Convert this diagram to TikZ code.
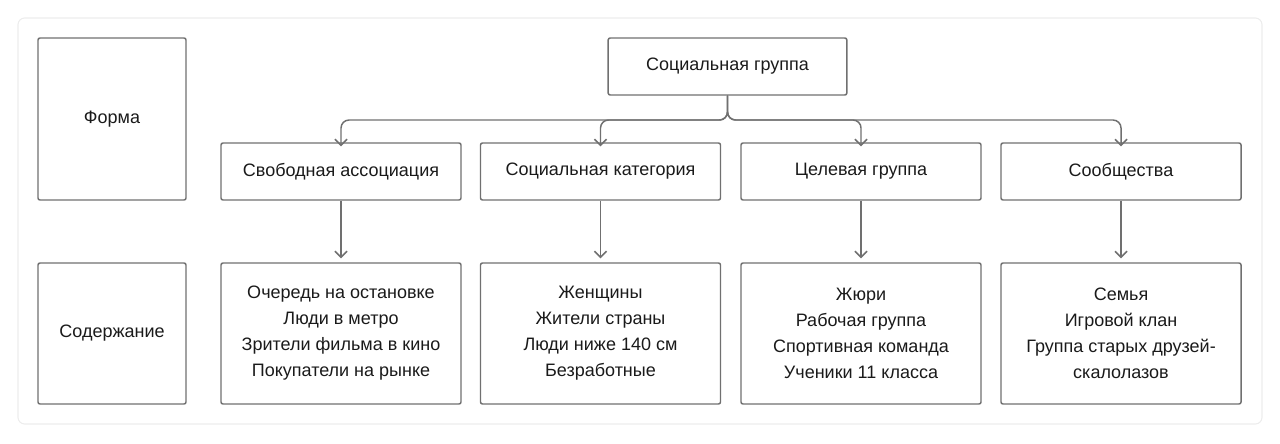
\documentclass[tikz,border=0pt]{standalone}
\usepackage{fontspec}
\setmainfont{Liberation Sans}
\usetikzlibrary{arrows.meta}
\definecolor{boxline}{HTML}{707070}
\definecolor{panel}{HTML}{ECECEC}
\definecolor{txt}{HTML}{1A1A1A}
\tikzset{
  box/.style={draw=boxline, line width=1.1pt, rounded corners=1.5pt, text=txt, align=center, font=\fontsize{13.5}{19.5}\selectfont, inner sep=0pt},
  smallbox/.style={box, minimum width=180pt, minimum height=42.75pt},
  bigbox/.style={box, minimum width=180pt, minimum height=105.75pt},
  sidebox/.style={box, minimum width=111pt},
  arr/.style={draw=boxline, line width=1.1pt, -{Straight Barb[length=4.5pt,width=9pt]}}
}
\begin{document}
\begin{tikzpicture}[x=0.75pt,y=-0.75pt]
\useasboundingbox (0,0) rectangle (1280,443);
\draw[panel, line width=0.8pt, rounded corners=5pt] (18,18) rectangle (1262,424);

\node[sidebox, minimum height=121.5pt] (forma) at (112,119) {Форма};
\node[sidebox, minimum height=105.75pt] (content) at (112,333.5) {Содержание};

\node[box, minimum width=179pt, minimum height=42.75pt] (group) at (727.5,66.5) {Социальная группа};

\node[smallbox] (assoc) at (341,171.5) {Свободная ассоциация};
\node[smallbox] (categ) at (600.5,171.5) {Социальная категория};
\node[smallbox] (target) at (861,171.5) {Целевая группа};
\node[smallbox] (commun) at (1121,171.5) {Сообщества};

\node[bigbox] (assocex) at (341,333.5) {Очередь на остановке\\Люди в метро\\Зрители фильма в кино\\Покупатели на рынке};
\node[bigbox] (categex) at (600.5,333.5) {Женщины\\Жители страны\\Люди ниже 140 см\\Безработные};
\node[bigbox] (targetex) at (861,333.5) {Жюри\\Рабочая группа\\Спортивная команда\\Ученики 11 класса};
\node[bigbox] (communex) at (1121,333.5) {Семья\\Игровой клан\\Группа старых друзей-\\скалолазов};

\coordinate (bus) at (727.5,120);
\foreach \n in {assoc,categ,target,commun}{
  \draw[arr, rounded corners=6pt] (group.south) -- (bus) -| ([yshift=-3pt]\n.north);
  \draw[arr] (\n.south) -- ([yshift=3pt]\n ex.north);
}
\end{tikzpicture}
\end{document}
